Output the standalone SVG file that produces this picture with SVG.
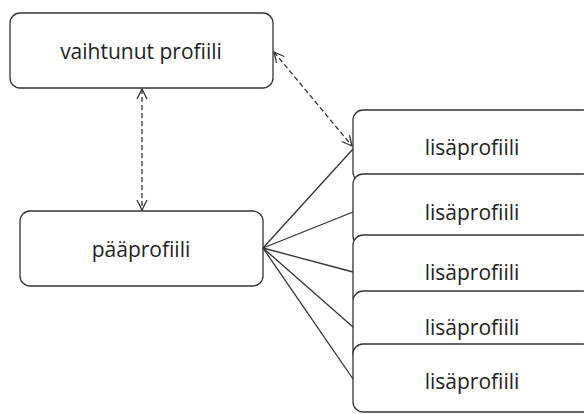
<svg xmlns="http://www.w3.org/2000/svg" width="584" height="414" viewBox="0 0 584 414">
<style>
.box{fill:#fff;stroke:#333;stroke-width:1.3}
.lbl{font-family:"Open Sans","DejaVu Sans",sans-serif;font-size:21px;fill:#222;text-anchor:middle}
.solid{stroke:#333;stroke-width:1.3;fill:none}
.dash{stroke:#333;stroke-width:1.3;fill:none;stroke-dasharray:5 3}
</style>
<defs>
<marker id="open" viewBox="0 0 12 12" refX="11" refY="6" markerWidth="12" markerHeight="12" markerUnits="userSpaceOnUse" orient="auto-start-reverse">
<path d="M1 1 L11 6 L1 11" fill="none" stroke="#333" stroke-width="1.3"/>
</marker>
</defs>
<g id="n-vaihtunut">
<rect class="box" x="10" y="13" width="263" height="75" rx="10"/>
<text class="lbl" x="141" y="59">vaihtunut profiili</text>
</g>
<g id="n-paa">
<rect class="box" x="20" y="211" width="243" height="75" rx="10"/>
<text class="lbl" x="141" y="257">pääprofiili</text>
</g>
<g id="n-lisa1">
<rect class="box" x="353" y="110" width="240" height="72" rx="10"/>
<text class="lbl" x="472" y="155">lisäprofiili</text>
</g>
<g id="n-lisa2">
<rect class="box" x="353" y="174" width="240" height="72" rx="10"/>
<text class="lbl" x="472" y="220">lisäprofiili</text>
</g>
<g id="n-lisa3">
<rect class="box" x="353" y="235" width="240" height="72" rx="10"/>
<text class="lbl" x="472" y="280">lisäprofiili</text>
</g>
<g id="n-lisa4">
<rect class="box" x="353" y="291" width="240" height="72" rx="10"/>
<text class="lbl" x="472" y="335">lisäprofiili</text>
</g>
<g id="n-lisa5">
<rect class="box" x="353" y="344" width="240" height="68" rx="10"/>
<text class="lbl" x="472" y="389">lisäprofiili</text>
</g>
<g id="connectors">
<line class="dash" x1="142" y1="89" x2="142" y2="210" marker-start="url(#open)" marker-end="url(#open)"/>
<line class="dash" x1="274" y1="52" x2="352" y2="146" marker-start="url(#open)" marker-end="url(#open)"/>
<line class="solid" x1="263" y1="248" x2="353" y2="149"/>
<line class="solid" x1="263" y1="248" x2="353" y2="212"/>
<line class="solid" x1="263" y1="248" x2="353" y2="272"/>
<line class="solid" x1="263" y1="248" x2="353" y2="327"/>
<line class="solid" x1="263" y1="248" x2="353" y2="379"/>
</g>
</svg>
